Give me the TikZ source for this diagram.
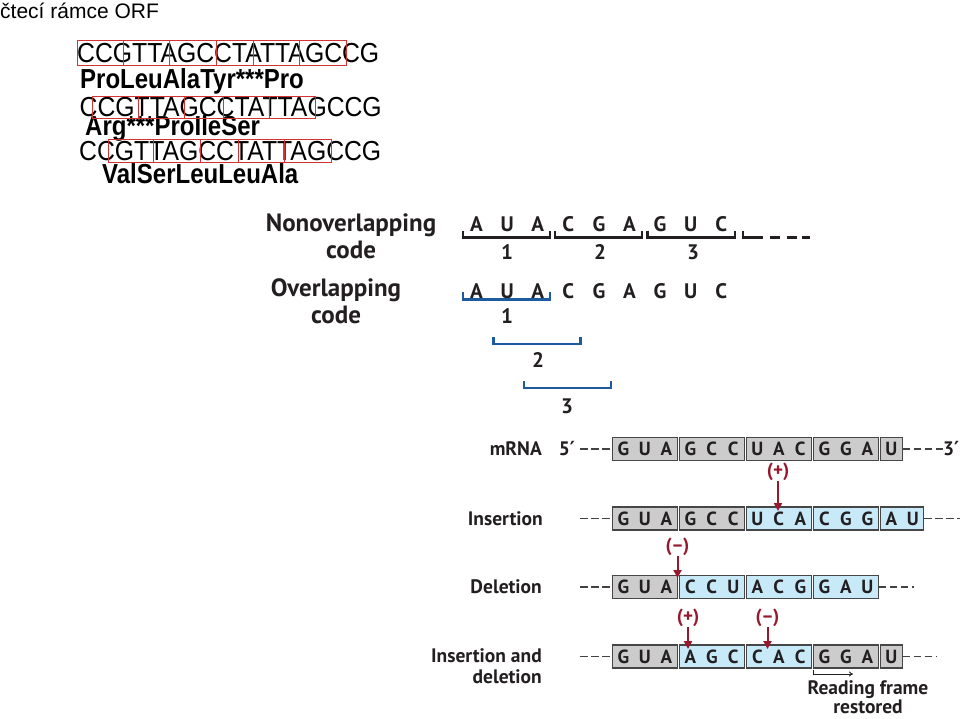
\documentclass[tikz,border=0pt]{standalone}
\usepackage{fontspec}
\setmainfont{Liberation Sans}
\newfontfamily\figfont{PT Sans}
\newfontfamily\primefont{DejaVu Sans}
\usetikzlibrary{arrows.meta}
\definecolor{orfred}{RGB}{210,50,50}
\definecolor{ink}{RGB}{35,31,32}
\definecolor{brk}{RGB}{30,90,160}
\definecolor{mutred}{RGB}{150,25,45}
\definecolor{boxgray}{RGB}{204,204,204}
\definecolor{boxblue}{RGB}{200,233,248}
\definecolor{boxedge}{RGB}{70,70,70}
\newcommand\nuc[1]{\makebox[21.5pt]{#1}}
\newcommand\sqz[1]{\scalebox{0.9}[1]{#1}}
\newcommand\sqzb[1]{\scalebox{0.873}[1]{#1}}
\newcommand\prm{{\primefont\bfseries ′}}
\begin{document}
\begin{tikzpicture}[x=1pt,y=-1pt,
  seq/.style={anchor=base west,inner sep=0pt,font=\fontsize{27.5}{30}\selectfont},
  aa/.style={anchor=base west,inner sep=0pt,font=\fontsize{27.5}{30}\selectfont\bfseries},
  orf/.style={draw=orfred,line width=0.9pt},
  lab/.style={inner sep=0pt,anchor=base,text=ink,font=\figfont\bfseries\fontsize{25}{28}\selectfont},
  basel/.style={inner sep=0pt,anchor=base,text=ink,font=\figfont\bfseries\fontsize{21}{24}\selectfont},
  small/.style={inner sep=0pt,text=ink,font=\figfont\bfseries\fontsize{19.5}{22}\selectfont},
  blkbr/.style={draw=ink,line width=2.6pt},
  blubr/.style={draw=brk,line width=2.6pt},
  gbox/.style={draw=boxedge,fill=boxgray,line width=1.1pt,inner sep=0pt,minimum height=23pt,anchor=west,text=ink,font=\figfont\bfseries\fontsize{19}{21}\selectfont},
  bbox/.style={gbox,fill=boxblue},
  dashln/.style={draw=ink!85,line width=1.8pt,dash pattern=on 7.5pt off 3.5pt},
  mut/.style={inner sep=0pt,text=mutred,font=\figfont\bfseries\fontsize{19}{21}\selectfont},
  mutarr/.style={draw=mutred,line width=2pt,-{Triangle[length=8pt,width=8pt]}},
  rfarr/.style={draw=ink,line width=0.9pt,-{To[length=4pt,width=5pt]}}
]
\useasboundingbox (0,0) rectangle (960,718);

% ---------- ORF part ----------
\node[anchor=base west,inner sep=0pt,font=\fontsize{21}{24}\selectfont] (title) at (0,18.5) {čtecí rámce ORF};

\node[seq] (r1) at (77,62.5) {\sqz{CCGTTAGCCTATTAGCCG}};
\node[aa] (p1) at (80,88) {\sqzb{ProLeuAlaTyr***Pro}};
\node[seq] (r2) at (79.5,116) {\sqz{CCGTTAGCCTATTAGCCG}};
\node[aa] (p2) at (85,135) {\sqzb{Arg***ProIleSer}};
\node[seq] (r3) at (79,160) {\sqz{CCGTTAGCCTATTAGCCG}};
\node[aa] (p3) at (102,183) {\sqzb{ValSerLeuLeuAla}};

\foreach \a/\b in {77/123,123/169,169/216,216/253,253/299,299/346}
  \draw[orf] (\a,40.5) rectangle (\b,65);
\foreach \a/\b in {92.7/138.3,138.3/184.3,184.3/223.3,223.3/269,269/315.7}
  \draw[orf] (\a,96.7) rectangle (\b,118);
\foreach \a/\b in {108.3/153.3,153.3/200,200/238.3,238.3/284.5,284.5/331}
  \draw[orf] (\a,139) rectangle (\b,162);

% ---------- coding schemes ----------
\node[lab] (nonov) at (351,231) {Nonoverlapping};
\node[lab] (codeA) at (351,258) {code};
\node[lab] (ovl) at (336,296) {Overlapping};
\node[lab] (codeB) at (336,323) {code};

\foreach \l [count=\i from 0] in {A,U,A,C,G,A,G,U,C}
  \node[basel] (na\i) at (476.5+30.6*\i,231.5) {\l};
\foreach \l [count=\i from 0] in {A,U,A,C,G,A,G,U,C}
  \node[basel] (nb\i) at (476.5+30.6*\i,298) {\l};

% black brackets
\foreach \a/\b in {463/550,555/642,647.5/735}
  \draw[blkbr] (\a,230.5) -- (\a,237.7) -- (\b,237.7) -- (\b,230.5);
\draw[blkbr] (743,230.5) -- (743,237.7) -- (763,237.7);
\foreach \a/\b in {770/780,787/797,802/810}
  \draw[blkbr] (\a,237.7) -- (\b,237.7);
\node[basel] (k1) at (507,259) {1};
\node[basel] (k2) at (600,259) {2};
\node[basel] (k3) at (693,259) {3};

% blue brackets
\draw[blubr] (463,292) -- (463,299.3) -- (550,299.3) -- (550,292);
\draw[blubr] (493.5,337) -- (493.5,344) -- (580.5,344) -- (580.5,337);
\draw[blubr] (524,381) -- (524,388) -- (611,388) -- (611,381);
\node[basel] (o1) at (507,323) {1};
\node[basel] (o2) at (538,367.5) {2};
\node[basel] (o3) at (567,413.5) {3};

% ---------- mutations ----------
% mRNA
\node[small,anchor=base east] (lm) at (542,455.5) {mRNA};
\node[small,anchor=base] (five) at (567,455.5) {5\prm};
\node[gbox] (m1) at (612,449) {\nuc G\nuc U\nuc A};
\node[gbox] (m2) at (679,449) {\nuc G\nuc C\nuc C};
\node[gbox] (m3) at (746,449) {\nuc U\nuc A\nuc C};
\node[gbox] (m4) at (813,449) {\nuc G\nuc G\nuc A};
\node[gbox] (m5) at (880,449) {\nuc U};
\coordinate (ms) at (580,449);
\coordinate (me) at (943,449);
\draw[dashln] (ms) -- (m1.west);
\draw[dashln] (m5.east) -- (me);
\node[small,anchor=base east] (three) at (959.5,455.5) {3\prm};

% Insertion
\node[small,anchor=base east] (li) at (543,525) {Insertion};
\node[gbox] (i1) at (612,518.5) {\nuc G\nuc U\nuc A};
\node[gbox] (i2) at (679,518.5) {\nuc G\nuc C\nuc C};
\node[bbox] (i3) at (746,518.5) {\nuc U\nuc C\nuc A};
\node[bbox] (i4) at (813,518.5) {\nuc C\nuc G\nuc G};
\node[bbox] (i5) at (880,518.5) {\nuc A\nuc U};
\coordinate (is) at (580,518.5);
\coordinate (ie) at (960,518.5);
\draw[dashln] (is) -- (i1.west);
\draw[dashln] (i5.east) -- (ie);
\node[mut] (pI) at (778,472) {(+)};
\coordinate (tI) at (778,511);
\draw[mutarr] (pI.south) -- (tI);

% Deletion
\node[small,anchor=base east] (ld) at (542,593.5) {Deletion};
\node[gbox] (d1) at (612,587) {\nuc G\nuc U\nuc A};
\node[bbox] (d2) at (679,587) {\nuc C\nuc C\nuc U};
\node[bbox] (d3) at (746,587) {\nuc A\nuc C\nuc G};
\node[bbox] (d4) at (813,587) {\nuc G\nuc A\nuc U};
\coordinate (ds) at (580,587);
\coordinate (de) at (914,587);
\draw[dashln] (ds) -- (d1.west);
\draw[dashln] (d4.east) -- (de);
\node[mut] (mD) at (677.5,547) {(–)};
\coordinate (tD) at (677.5,578);
\draw[mutarr] (mD.south) -- (tD);

% Insertion and deletion
\node[small,anchor=base east] (lid1) at (542,662.5) {Insertion and};
\node[small,anchor=base east] (lid2) at (542,683) {deletion};
\node[gbox] (e1) at (612,656.5) {\nuc G\nuc U\nuc A};
\node[bbox] (e2) at (679,656.5) {\nuc A\nuc G\nuc C};
\node[bbox] (e3) at (746,656.5) {\nuc C\nuc A\nuc C};
\node[gbox] (e4) at (813,656.5) {\nuc G\nuc G\nuc A};
\node[gbox] (e5) at (880,656.5) {\nuc U};
\coordinate (es) at (580,656.5);
\coordinate (ee) at (937,656.5);
\draw[dashln] (es) -- (e1.west);
\draw[dashln] (e5.east) -- (ee);
\node[mut] (pE) at (688,618) {(+)};
\coordinate (tE1) at (688,649);
\draw[mutarr] (pE.south) -- (tE1);
\node[mut] (mE) at (767.5,618) {(–)};
\coordinate (tE2) at (767.5,649);
\draw[mutarr] (mE.south) -- (tE2);

% reading frame restored
\coordinate (rf0) at (813,669.5);
\coordinate (rf1) at (813,674);
\coordinate (rf2) at (853,674);
\draw[rfarr] (rf0) -- (rf1) -- (rf2);
\node[small,anchor=base] (rf) at (868,694) {Reading frame};
\node[small,anchor=base] (rs) at (868,713.5) {restored};
\end{tikzpicture}
\end{document}
